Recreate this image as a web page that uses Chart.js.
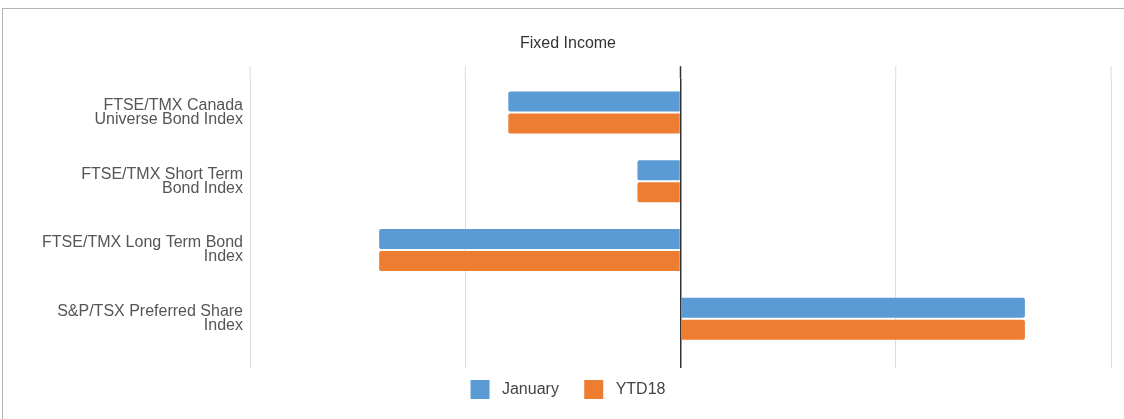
<!DOCTYPE html>
<html>
<head>
<meta charset="utf-8">
<script src="https://cdn.jsdelivr.net/npm/chart.js@4"></script>
<style>
  html, body { margin: 0; padding: 0; background: #fff; overflow: hidden; }
  #frame { position: absolute; left: 2px; top: 8px; width: 1140px; height: 430px; border: 1px solid #b4b4b4; }
  #chart-fixed-income { position: absolute; left: 0; top: 0; }
</style>
</head>
<body>
<div id="frame">
  <canvas id="chart-fixed-income" width="1130" height="410"></canvas>
</div>
<script>
const categories = [
  ['FTSE/TMX Canada', 'Universe Bond Index'],
  ['FTSE/TMX Short Term', 'Bond Index'],
  ['FTSE/TMX Long Term Bond', 'Index'],
  ['S&P/TSX Preferred Share', 'Index']
];
const january = [-0.8, -0.2, -1.4, 1.6];
const ytd18 = [-0.8, -0.2, -1.4, 1.6];
const xTicks = [-2, -1, 0, 1, 2];

const FONT = 'Liberation Sans, Arial, Helvetica, sans-serif';

// stretches the vertical grid lines a little above the plot, like the original
const gridTop = {
  id: 'gridTop',
  beforeDatasetsDraw(chart) {
    const { ctx, chartArea, scales } = chart;
    ctx.save();
    xTicks.forEach((v) => {
      const x = scales.x.getPixelForValue(v);
      ctx.beginPath();
      ctx.strokeStyle = v === 0 ? '#333333' : '#dcdcdc';
      ctx.lineWidth = v === 0 ? 1.5 : 1;
      ctx.moveTo(x, chartArea.top - 12);
      ctx.lineTo(x, chartArea.top);
      ctx.stroke();
    });
    ctx.restore();
  }
};

const canvas = document.getElementById('chart-fixed-income');
new Chart(canvas.getContext('2d'), {
  type: 'bar',
  data: {
    labels: categories,
    datasets: [
      { label: 'January', data: january, backgroundColor: '#5b9bd5', borderRadius: 2, borderSkipped: 'start' },
      { label: 'YTD18', data: ytd18, backgroundColor: '#ed7d31', borderRadius: 2, borderSkipped: 'start' }
    ]
  },
  options: {
    indexAxis: 'y',
    responsive: false,
    animation: false,
    categoryPercentage: 0.64,
    barPercentage: 0.91,
    layout: { padding: { top: 15, right: 22, bottom: 10, left: 22 } },
    scales: {
      x: {
        min: -2,
        max: 2,
        afterBuildTicks: (axis) => { axis.ticks = xTicks.map((v) => ({ value: v })); },
        ticks: { display: false },
        border: { display: false },
        grid: {
          drawTicks: true,
          tickLength: 15,
          color: (c) => (c.tick && c.tick.value === 0 ? '#333333' : '#dcdcdc'),
          lineWidth: (c) => (c.tick && c.tick.value === 0 ? 1.5 : 1)
        }
      },
      y: {
        afterFit: (scale) => { scale.width = 225; },
        grid: { display: false, drawTicks: false },
        border: { display: false },
        ticks: {
          padding: 7,
          color: '#555555',
          font: { family: FONT, size: 16, lineHeight: 0.875 }
        }
      }
    },
    plugins: {
      title: {
        display: true,
        text: 'Fixed Income',
        color: '#333333',
        font: { family: FONT, size: 16, weight: 'normal' },
        padding: { top: 10, bottom: 25 }
      },
      legend: {
        position: 'bottom',
        labels: {
          boxWidth: 19,
          boxHeight: 19,
          padding: 12,
          color: '#444444',
          font: { family: FONT, size: 16 },
          // a leading space widens the box-to-text gap, trailing ones space the items apart
          generateLabels: (chart) => {
            const items = Chart.defaults.plugins.legend.labels.generateLabels(chart);
            return items.map((item, i) => ({
              ...item,
              text: ' ' + item.text + (i < items.length - 1 ? '   ' : ''),
              lineWidth: 0
            }));
          }
        }
      },
      tooltip: { enabled: false }
    }
  },
  plugins: [gridTop]
});
</script>
</body>
</html>
